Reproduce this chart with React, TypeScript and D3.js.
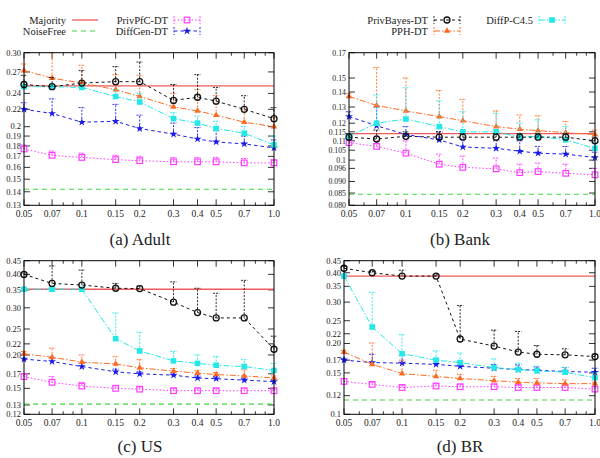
import React, { useEffect, useRef } from 'react';
import * as d3 from 'd3';

const ratios = [0.05, 0.07, 0.1, 0.15, 0.2, 0.3, 0.4, 0.5, 0.7, 1.0];
const xTickLabels = ['0.05', '0.07', '0.1', '0.15', '0.2', '0.3', '0.4', '0.5', '0.7', '1.0'];
const xMinorTicks = [0.06, 0.08, 0.09, 0.6, 0.8, 0.9];

// (a) Adult
const adultMajority = 0.25;
const adultNoiseFree = 0.142;
const adultPrivPfC = [0.177, 0.171, 0.169, 0.167, 0.166, 0.165, 0.165, 0.165, 0.164, 0.164];
const adultPrivPfCUp = [0.181, 0.175, 0.173, 0.171, 0.170, 0.169, 0.169, 0.169, 0.168, 0.167];
const adultDiffGen = [0.220, 0.215, 0.205, 0.206, 0.198, 0.192, 0.187, 0.184, 0.182, 0.178];
const adultDiffGenUp = [0.228, 0.233, 0.222, 0.226, 0.213, 0.204, 0.199, 0.196, 0.190, 0.186];
const adultPrivBayes = [0.252, 0.249, 0.254, 0.256, 0.256, 0.231, 0.235, 0.230, 0.220, 0.209];
const adultPrivBayesUp = [0.265, 0.262, 0.272, 0.278, 0.285, 0.252, 0.266, 0.248, 0.237, 0.222];
const adultPPH = [0.272, 0.261, 0.254, 0.245, 0.236, 0.223, 0.218, 0.213, 0.205, 0.200];
const adultPPHUp = [0.282, 0.300, 0.280, 0.266, 0.265, 0.240, 0.245, 0.237, 0.220, 0.210];
const adultDiffP = [0.249, 0.249, 0.248, 0.236, 0.229, 0.209, 0.204, 0.198, 0.193, 0.181];
const adultDiffPUp = [0.251, 0.251, 0.252, 0.245, 0.240, 0.216, 0.212, 0.206, 0.200, 0.190];
const adultYTicks = [0.13, 0.14, 0.15, 0.16, 0.17, 0.18, 0.19, 0.2, 0.22, 0.24, 0.27, 0.30];
const adultYLabels = ['0.13', '0.14', '0.15', '0.16', '0.17', '0.18', '0.19', '0.2', '0.22', '0.24', '0.27', '0.30'];

// (b) Bank
const bankMajority = 0.114;
const bankNoiseFree = 0.0845;
const bankPrivPfC = [0.109, 0.107, 0.1035, 0.098, 0.0965, 0.0958, 0.094, 0.0945, 0.0937, 0.093];
const bankPrivPfCUp = [0.111, 0.110, 0.110, 0.103, 0.102, 0.101, 0.098, 0.0985, 0.098, 0.096];
const bankDiffGen = [0.124, 0.1185, 0.1135, 0.1105, 0.1067, 0.106, 0.1045, 0.1035, 0.103, 0.1013];
const bankDiffGenUp = [0.127, 0.130, 0.118, 0.115, 0.111, 0.110, 0.110, 0.107, 0.107, 0.104];
const bankPrivBayes = [0.112, 0.111, 0.1125, 0.112, 0.112, 0.112, 0.112, 0.112, 0.112, 0.110];
const bankPrivBayesUp = [0.114, 0.116, 0.115, 0.115, 0.114, 0.114, 0.114, 0.114, 0.114, 0.112];
const bankPPH = [0.137, 0.131, 0.1275, 0.124, 0.1215, 0.118, 0.1165, 0.1157, 0.1145, 0.1135];
const bankPPHUp = [0.139, 0.158, 0.150, 0.141, 0.135, 0.1275, 0.125, 0.1245, 0.121, 0.116];
const bankDiffP = [0.1125, 0.120, 0.1225, 0.118, 0.115, 0.115, 0.112, 0.1125, 0.1105, 0.106];
const bankDiffPUp = [0.114, 0.138, 0.143, 0.134, 0.127, 0.126, 0.120, 0.122, 0.118, 0.109];
const bankYTicks = [0.080, 0.085, 0.090, 0.096, 0.1, 0.105, 0.11, 0.115, 0.12, 0.13, 0.14, 0.15, 0.17];
const bankYLabels = ['0.080', '0.085', '0.090', '0.096', '0.1', '0.105', '0.11', '0.115', '0.12', '0.13', '0.14', '0.15', '0.17'];

// (c) US
const usMajority = 0.352;
const usNoiseFree = 0.131;
const usPrivPfC = [0.166, 0.158, 0.153, 0.150, 0.149, 0.147, 0.147, 0.147, 0.147, 0.147];
const usPrivPfCUp = [0.170, 0.166, 0.158, 0.154, 0.152, 0.150, 0.150, 0.150, 0.150, 0.149];
const usDiffGen = [0.193, 0.189, 0.181, 0.173, 0.170, 0.168, 0.164, 0.163, 0.161, 0.159];
const usDiffGenUp = [0.200, 0.195, 0.186, 0.177, 0.173, 0.171, 0.167, 0.166, 0.164, 0.162];
const usPrivBayes = [0.400, 0.370, 0.365, 0.355, 0.354, 0.315, 0.288, 0.275, 0.275, 0.210];
const usPrivBayesUp = [0.405, 0.430, 0.415, 0.370, 0.362, 0.375, 0.355, 0.340, 0.380, 0.235];
const usPPH = [0.202, 0.196, 0.188, 0.185, 0.179, 0.174, 0.171, 0.169, 0.167, 0.164];
const usPPHUp = [0.206, 0.212, 0.200, 0.197, 0.192, 0.178, 0.175, 0.172, 0.176, 0.167];
const usDiffP = [0.352, 0.352, 0.352, 0.230, 0.207, 0.190, 0.186, 0.183, 0.181, 0.175];
const usDiffPUp = [0.355, 0.355, 0.355, 0.287, 0.243, 0.206, 0.200, 0.197, 0.192, 0.186];
const usYTicks = [0.12, 0.13, 0.15, 0.17, 0.20, 0.22, 0.25, 0.30, 0.35, 0.40, 0.45];
const usYLabels = ['0.12', '0.13', '0.15', '0.17', '0.20', '0.22', '0.25', '0.30', '0.35', '0.40', '0.45'];

// (d) BR
const brMajority = 0.387;
const brNoiseFree = 0.115;
const brPrivPfC = [0.138, 0.134, 0.130, 0.132, 0.131, 0.131, 0.130, 0.130, 0.130, 0.128];
const brPrivPfCUp = [0.142, 0.137, 0.133, 0.135, 0.134, 0.134, 0.133, 0.133, 0.133, 0.131];
const brDiffGen = [0.170, 0.166, 0.165, 0.163, 0.160, 0.157, 0.155, 0.154, 0.152, 0.151];
const brDiffGenUp = [0.173, 0.180, 0.178, 0.172, 0.167, 0.163, 0.162, 0.159, 0.158, 0.157];
const brPrivBayes = [0.418, 0.400, 0.387, 0.387, 0.209, 0.195, 0.184, 0.180, 0.179, 0.176];
const brPrivBayesUp = [0.425, 0.405, 0.410, 0.392, 0.290, 0.228, 0.225, 0.196, 0.190, 0.180];
const brPPH = [0.184, 0.163, 0.149, 0.145, 0.142, 0.139, 0.137, 0.136, 0.135, 0.135];
const brPPHUp = [0.187, 0.201, 0.170, 0.154, 0.148, 0.145, 0.142, 0.142, 0.140, 0.137];
const brDiffP = [0.387, 0.235, 0.181, 0.170, 0.166, 0.158, 0.155, 0.153, 0.151, 0.143];
const brDiffPUp = [0.390, 0.330, 0.218, 0.186, 0.182, 0.172, 0.165, 0.160, 0.158, 0.150];
const brYTicks = [0.1, 0.12, 0.15, 0.17, 0.20, 0.22, 0.25, 0.30, 0.35, 0.40, 0.45];
const brYLabels = ['0.1', '0.12', '0.15', '0.17', '0.20', '0.22', '0.25', '0.30', '0.35', '0.40', '0.45'];

const FONT = '"Liberation Serif", "Times New Roman", serif';

type Style = { name: string; color: string; dash: string | null; marker: string };
const styles: Record<string, Style> = {
  majority: { name: 'Majority', color: '#f05a5a', dash: null, marker: 'none' },
  noise: { name: 'NoiseFree', color: '#3fd83f', dash: '5,4', marker: 'none' },
  pfc: { name: 'PrivPfC-DT', color: '#ff3cff', dash: '1.5,2', marker: 'openSquare' },
  gen: { name: 'DiffGen-DT', color: '#1c1ce8', dash: '3.5,3', marker: 'star' },
  bayes: { name: 'PrivBayes-DT', color: '#111111', dash: '3,3', marker: 'circle' },
  pph: { name: 'PPH-DT', color: '#ff6a22', dash: '6,2,1.5,2', marker: 'triangle' },
  diffp: { name: 'DiffP-C4.5', color: '#22e8e8', dash: '6,2,1.5,2', marker: 'square' },
};

const panels = [
  {
    title: '(a) Adult', tx: 140, ty: 245, box: { x: 24, y: 52.7, w: 250, h: 152.6 },
    domain: [0.13, 0.30], yTicks: adultYTicks, yLabels: adultYLabels, yFont: 8.5,
    majority: adultMajority, noise: adultNoiseFree,
    series: [
      ['pfc', adultPrivPfC, adultPrivPfCUp], ['gen', adultDiffGen, adultDiffGenUp],
      ['pph', adultPPH, adultPPHUp], ['diffp', adultDiffP, adultDiffPUp],
      ['bayes', adultPrivBayes, adultPrivBayesUp],
    ],
  },
  {
    title: '(b) Bank', tx: 460, ty: 245, box: { x: 349, y: 52.7, w: 246, h: 152.6 },
    domain: [0.08, 0.17], yTicks: bankYTicks, yLabels: bankYLabels, yFont: 7.8,
    majority: bankMajority, noise: bankNoiseFree,
    series: [
      ['pfc', bankPrivPfC, bankPrivPfCUp], ['gen', bankDiffGen, bankDiffGenUp],
      ['pph', bankPPH, bankPPHUp], ['diffp', bankDiffP, bankDiffPUp],
      ['bayes', bankPrivBayes, bankPrivBayesUp],
    ],
  },
  {
    title: '(c) US', tx: 140, ty: 452, box: { x: 24, y: 260.7, w: 250, h: 153.6 },
    domain: [0.12, 0.45], yTicks: usYTicks, yLabels: usYLabels, yFont: 8.5,
    majority: usMajority, noise: usNoiseFree,
    series: [
      ['pfc', usPrivPfC, usPrivPfCUp], ['gen', usDiffGen, usDiffGenUp],
      ['pph', usPPH, usPPHUp], ['diffp', usDiffP, usDiffPUp],
      ['bayes', usPrivBayes, usPrivBayesUp],
    ],
  },
  {
    title: '(d) BR', tx: 460, ty: 452, box: { x: 344, y: 260.7, w: 251, h: 153.6 },
    domain: [0.1, 0.45], yTicks: brYTicks, yLabels: brYLabels, yFont: 8.5,
    majority: brMajority, noise: brNoiseFree,
    series: [
      ['pfc', brPrivPfC, brPrivPfCUp], ['gen', brDiffGen, brDiffGenUp],
      ['pph', brPPH, brPPHUp], ['diffp', brDiffP, brDiffPUp],
      ['bayes', brPrivBayes, brPrivBayesUp],
    ],
  },
];

function drawMarker(g: any, kind: string, x: number, y: number, color: string) {
  if (kind === 'openSquare') {
    g.append('rect').attr('x', x - 2.8).attr('y', y - 2.8).attr('width', 5.6).attr('height', 5.6)
      .attr('fill', 'none').attr('stroke', color).attr('stroke-width', 1.2);
  } else if (kind === 'square') {
    g.append('rect').attr('x', x - 2.8).attr('y', y - 2.8).attr('width', 5.6).attr('height', 5.6)
      .attr('fill', color);
  } else if (kind === 'circle') {
    g.append('circle').attr('cx', x).attr('cy', y).attr('r', 3)
      .attr('fill', 'none').attr('stroke', color).attr('stroke-width', 1.3);
  } else if (kind === 'triangle') {
    g.append('path').attr('d', d3.symbol(d3.symbolTriangle, 18)())
      .attr('transform', `translate(${x},${y})`).attr('fill', color);
  } else if (kind === 'star') {
    g.append('path').attr('d', d3.symbol(d3.symbolStar, 20)())
      .attr('transform', `translate(${x},${y})`).attr('fill', color);
  }
}

const App: React.FC = () => {
  const svgRef = useRef<SVGSVGElement>(null);

  useEffect(() => {
    if (!svgRef.current) return;
    document.body.style.margin = '0';
    const svg = d3.select(svgRef.current);
    svg.selectAll('*').remove();

    svg.append('rect').attr('width', 600).attr('height', 458).attr('fill', '#fff');

    panels.forEach(p => {
      const { x: bx, y: by, w, h } = p.box;
      const x = d3.scaleLog().domain([0.05, 1.0]).range([bx, bx + w]);
      const y = d3.scaleLog().domain(p.domain).range([by + h, by]);
      const g = svg.append('g');

      // ticks (inward, mirrored)
      ratios.forEach((v, i) => {
        const px = x(v);
        g.append('line').attr('x1', px).attr('x2', px).attr('y1', by + h).attr('y2', by + h - 6)
          .attr('stroke', '#000').attr('stroke-width', 0.8);
        g.append('line').attr('x1', px).attr('x2', px).attr('y1', by).attr('y2', by + 6)
          .attr('stroke', '#000').attr('stroke-width', 0.8);
        g.append('text').attr('x', px).attr('y', by + h + 12).attr('text-anchor', 'middle')
          .attr('font-family', FONT).attr('font-size', 9.5).attr('fill', '#222').text(xTickLabels[i]);
      });
      xMinorTicks.forEach(v => {
        const px = x(v);
        g.append('line').attr('x1', px).attr('x2', px).attr('y1', by + h).attr('y2', by + h - 3)
          .attr('stroke', '#000').attr('stroke-width', 0.8);
        g.append('line').attr('x1', px).attr('x2', px).attr('y1', by).attr('y2', by + 3)
          .attr('stroke', '#000').attr('stroke-width', 0.8);
      });
      p.yTicks.forEach((v, i) => {
        const py = y(v);
        g.append('line').attr('x1', bx).attr('x2', bx + 6).attr('y1', py).attr('y2', py)
          .attr('stroke', '#000').attr('stroke-width', 0.8);
        g.append('line').attr('x1', bx + w).attr('x2', bx + w - 6).attr('y1', py).attr('y2', py)
          .attr('stroke', '#000').attr('stroke-width', 0.8);
        g.append('text').attr('x', bx - 3).attr('y', py + 2.8).attr('text-anchor', 'end')
          .attr('font-family', FONT).attr('font-size', p.yFont).attr('fill', '#222').text(p.yLabels[i]);
      });

      // reference lines
      g.append('line').attr('x1', bx).attr('x2', bx + w).attr('y1', y(p.majority)).attr('y2', y(p.majority))
        .attr('stroke', styles.majority.color).attr('stroke-width', 1.3);
      g.append('line').attr('x1', bx).attr('x2', bx + w).attr('y1', y(p.noise)).attr('y2', y(p.noise))
        .attr('stroke', styles.noise.color).attr('stroke-width', 1.1).attr('stroke-dasharray', styles.noise.dash);

      p.series.forEach(([key, vals, ups]: any) => {
        const st = styles[key];
        const sg = g.append('g');
        // error bars (upper only)
        ratios.forEach((r, i) => {
          const px = x(r);
          sg.append('line').attr('x1', px).attr('x2', px).attr('y1', y(vals[i])).attr('y2', y(ups[i]))
            .attr('stroke', st.color).attr('stroke-width', 0.9).attr('stroke-dasharray', '2,1.5');
          sg.append('line').attr('x1', px - 3.2).attr('x2', px + 3.2).attr('y1', y(ups[i])).attr('y2', y(ups[i]))
            .attr('stroke', st.color).attr('stroke-width', 0.9).attr('stroke-dasharray', '2,1');
        });
        const line = d3.line<number>().x((_, i) => x(ratios[i])).y(d => y(d));
        sg.append('path').datum(vals).attr('d', line).attr('fill', 'none')
          .attr('stroke', st.color).attr('stroke-width', 1).attr('stroke-dasharray', st.dash);
        vals.forEach((v: number, i: number) => drawMarker(sg, st.marker, x(ratios[i]), y(v), st.color));
      });

      g.append('rect').attr('x', bx).attr('y', by).attr('width', w).attr('height', h)
        .attr('fill', 'none').attr('stroke', '#000').attr('stroke-width', 1);

      g.append('text').attr('x', p.tx).attr('y', p.ty).attr('text-anchor', 'middle')
        .attr('font-family', FONT).attr('font-size', 17).attr('fill', '#222').text(p.title);
    });

    // legend
    const legend = [
      { key: 'majority', tx: 66, ty: 20, err: false },
      { key: 'noise', tx: 66, ty: 31, err: false },
      { key: 'pfc', tx: 168, ty: 20, err: true },
      { key: 'gen', tx: 168, ty: 31, err: true },
      { key: 'bayes', tx: 428, ty: 20, err: true },
      { key: 'pph', tx: 428, ty: 31, err: true },
      { key: 'diffp', tx: 533, ty: 20, err: true },
    ];
    const lg = svg.append('g');
    legend.forEach(l => {
      const st = styles[l.key];
      lg.append('text').attr('x', l.tx).attr('y', l.ty + 3.5).attr('text-anchor', 'end')
        .attr('font-family', FONT).attr('font-size', 10.5).attr('fill', '#222').text(st.name);
      const x0 = l.tx + 6, x1 = l.tx + 32;
      lg.append('line').attr('x1', x0).attr('x2', x1).attr('y1', l.ty).attr('y2', l.ty)
        .attr('stroke', st.color).attr('stroke-width', l.key === 'majority' ? 1.3 : 1)
        .attr('stroke-dasharray', st.dash);
      if (l.err) {
        [x0, x1].forEach(ex => {
          lg.append('line').attr('x1', ex).attr('x2', ex).attr('y1', l.ty - 4).attr('y2', l.ty + 4)
            .attr('stroke', st.color).attr('stroke-width', 0.9).attr('stroke-dasharray', '2,1.5');
        });
        drawMarker(lg, st.marker, (x0 + x1) / 2, l.ty, st.color);
      }
    });
  }, []);

  return <svg ref={svgRef} width={600} height={458} style={{ display: 'block' }} />;
};

export default App;
